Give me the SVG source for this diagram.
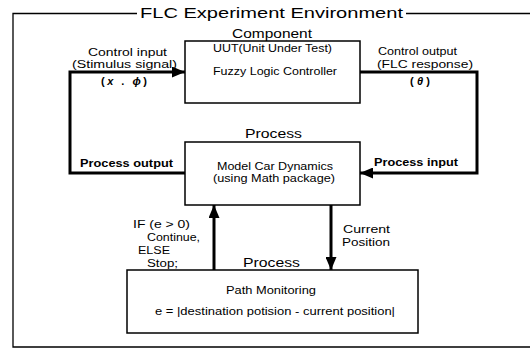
<svg xmlns="http://www.w3.org/2000/svg" width="530" height="349" viewBox="0 0 530 349">
<style>
text{font-family:"Liberation Sans",Arial,sans-serif;fill:#000}
.s{font-size:10px}
.m{font-size:12px}
.b{font-size:11px;font-weight:bold}
.box{fill:#fff;stroke:#000;stroke-width:1.5}
.frame{fill:none;stroke:#000;stroke-width:1.3}
.con{fill:none;stroke:#000;stroke-width:3}
</style>
<defs>
<marker id="ah" markerUnits="userSpaceOnUse" markerWidth="13" markerHeight="11" refX="13" refY="5.5" orient="auto">
<path d="M0,0 L13,5.5 L0,11 z" fill="#000"/>
</marker>
</defs>
<rect width="530" height="349" fill="#fff"/>
<g id="frame">
<path class="frame" d="M137,13.5 H13 V347 H530"/>
<path class="frame" d="M406,13.5 H530"/>
<text x="140" y="18" style="font-size:15px" textLength="263" lengthAdjust="spacingAndGlyphs">FLC Experiment Environment</text>
</g>
<g id="connectors">
<path class="con" d="M185,173 H70 V72 H185" marker-end="url(#ah)"/>
<path class="con" d="M360,72 H477 V173 H360" marker-end="url(#ah)"/>
<path class="con" d="M331,205 V270" marker-end="url(#ah)"/>
<path class="con" d="M214,270 V205" marker-end="url(#ah)"/>
<text class="s" x="88" y="56" textLength="79" lengthAdjust="spacingAndGlyphs">Control input</text>
<text class="s" x="72" y="68" textLength="105" lengthAdjust="spacingAndGlyphs">(Stimulus signal)</text>
<text x="101" y="85" style="font-size:11px;font-weight:bold" textLength="46" lengthAdjust="spacing">(<tspan font-style="italic">x</tspan> . <tspan font-style="italic">ϕ</tspan>)</text>
<text class="s" x="378" y="55" textLength="79" lengthAdjust="spacingAndGlyphs">Control output</text>
<text class="s" x="377" y="68" textLength="96" lengthAdjust="spacingAndGlyphs">(FLC response)</text>
<text x="410" y="85" style="font-size:11px;font-weight:bold" textLength="20" lengthAdjust="spacing">(<tspan font-style="italic">θ</tspan>)</text>
<text class="b" x="80" y="167" textLength="93" lengthAdjust="spacingAndGlyphs">Process output</text>
<text class="b" x="374" y="166" textLength="84" lengthAdjust="spacingAndGlyphs">Process input</text>
<text class="s" x="133" y="228" textLength="57" lengthAdjust="spacingAndGlyphs">IF (e &gt; 0)</text>
<text class="s" x="147" y="241" textLength="53" lengthAdjust="spacingAndGlyphs">Continue,</text>
<text class="s" x="138" y="254" textLength="32" lengthAdjust="spacingAndGlyphs">ELSE</text>
<text class="s" x="147" y="267" textLength="31" lengthAdjust="spacingAndGlyphs">Stop;</text>
<text class="s" x="343" y="233" textLength="47" lengthAdjust="spacingAndGlyphs">Current</text>
<text class="s" x="342" y="246" textLength="48" lengthAdjust="spacingAndGlyphs">Position</text>
</g>
<g id="component">
<text class="m" x="232" y="38" textLength="80" lengthAdjust="spacingAndGlyphs">Component</text>
<rect class="box" x="185" y="41" width="175" height="62"/>
<text class="s" x="213" y="52" textLength="119" lengthAdjust="spacingAndGlyphs">UUT(Unit Under Test)</text>
<text class="s" x="213" y="75" textLength="124" lengthAdjust="spacingAndGlyphs">Fuzzy Logic Controller</text>
</g>
<g id="process">
<text class="m" x="245" y="138" textLength="57" lengthAdjust="spacingAndGlyphs">Process</text>
<rect class="box" x="185" y="142" width="175" height="63"/>
<text class="s" x="217" y="170" textLength="116" lengthAdjust="spacingAndGlyphs">Model Car Dynamics</text>
<text class="s" x="213" y="182" textLength="122" lengthAdjust="spacingAndGlyphs">(using Math package)</text>
</g>
<g id="path-monitoring">
<text class="m" x="243" y="267" textLength="57" lengthAdjust="spacingAndGlyphs">Process</text>
<rect class="box" x="127" y="270" width="291" height="63"/>
<text class="s" x="226" y="294" textLength="90" lengthAdjust="spacingAndGlyphs">Path Monitoring</text>
<text class="s" x="155" y="315" textLength="240" lengthAdjust="spacingAndGlyphs">e = |destination potision - current position|</text>
</g>
</svg>
